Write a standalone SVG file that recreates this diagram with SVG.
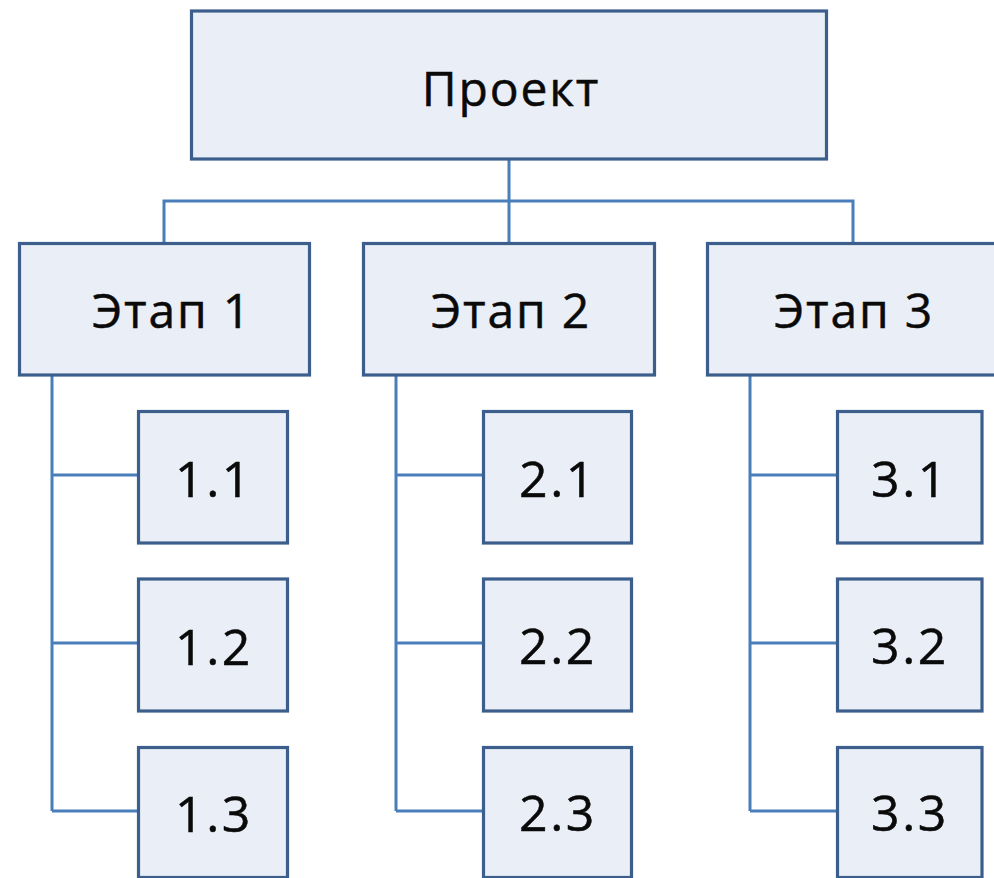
<svg xmlns="http://www.w3.org/2000/svg" width="994" height="878" viewBox="0 0 994 878">
<style>
.box{fill:#eaeff7;stroke:#3b5e8c;stroke-width:3.2}
.ln{fill:none;stroke:#4a7ebb;stroke-width:3}
.t{font-family:"Open Sans","Noto Sans",sans-serif;font-size:48px;fill:#0a0a0a;text-anchor:middle;letter-spacing:1.8px;stroke:#0a0a0a;stroke-width:0.5}
.n{font-family:"Open Sans","Noto Sans",sans-serif;font-size:50px;fill:#0a0a0a;text-anchor:middle;letter-spacing:2.5px;stroke:#0a0a0a;stroke-width:0.5}
</style>
<rect width="994" height="878" fill="#ffffff"/>
<g id="connectors">
<path class="ln" d="M509 159V243M164 243V201H853V243"/>
<path class="ln" d="M52 375V811M52 475H138M52 643H138M52 811H138"/>
<path class="ln" d="M396 375V811M396 475H483M396 643H483M396 811H483"/>
<path class="ln" d="M750 375V811M750 475H837M750 643H837M750 811H837"/>
</g>
<g id="project"><rect class="box" x="191.5" y="11" width="635" height="148"/><text class="t" x="511" y="106">Проект</text></g>
<g id="stage1"><rect class="box" x="19.5" y="243.5" width="290" height="131.5"/><text class="t" x="172" y="328">Этап 1</text></g>
<g id="stage2"><rect class="box" x="363.5" y="243.5" width="291" height="131.5"/><text class="t" x="511" y="328">Этап 2</text></g>
<g id="stage3"><rect class="box" x="707.5" y="243.5" width="300" height="131.5"/><text class="t" x="854" y="328">Этап 3</text></g>
<g id="n11"><rect class="box" x="138.5" y="411.5" width="149" height="131.5"/><text class="n" x="214" y="497">1.1</text></g>
<g id="n12"><rect class="box" x="138.5" y="579" width="149" height="132"/><text class="n" x="214" y="665">1.2</text></g>
<g id="n13"><rect class="box" x="138.5" y="747.5" width="149" height="130"/><text class="n" x="214" y="832">1.3</text></g>
<g id="n21"><rect class="box" x="483.5" y="411.5" width="148" height="131.5"/><text class="n" x="558" y="497">2.1</text></g>
<g id="n22"><rect class="box" x="483.5" y="579" width="148" height="132"/><text class="n" x="558" y="664">2.2</text></g>
<g id="n23"><rect class="box" x="483.5" y="747.5" width="148" height="130"/><text class="n" x="558" y="831">2.3</text></g>
<g id="n31"><rect class="box" x="837.5" y="411.5" width="144.5" height="131.5"/><text class="n" x="910" y="497">3.1</text></g>
<g id="n32"><rect class="box" x="837.5" y="579" width="144.5" height="132"/><text class="n" x="910" y="664">3.2</text></g>
<g id="n33"><rect class="box" x="837.5" y="747.5" width="144.5" height="130"/><text class="n" x="910" y="831">3.3</text></g>
</svg>
